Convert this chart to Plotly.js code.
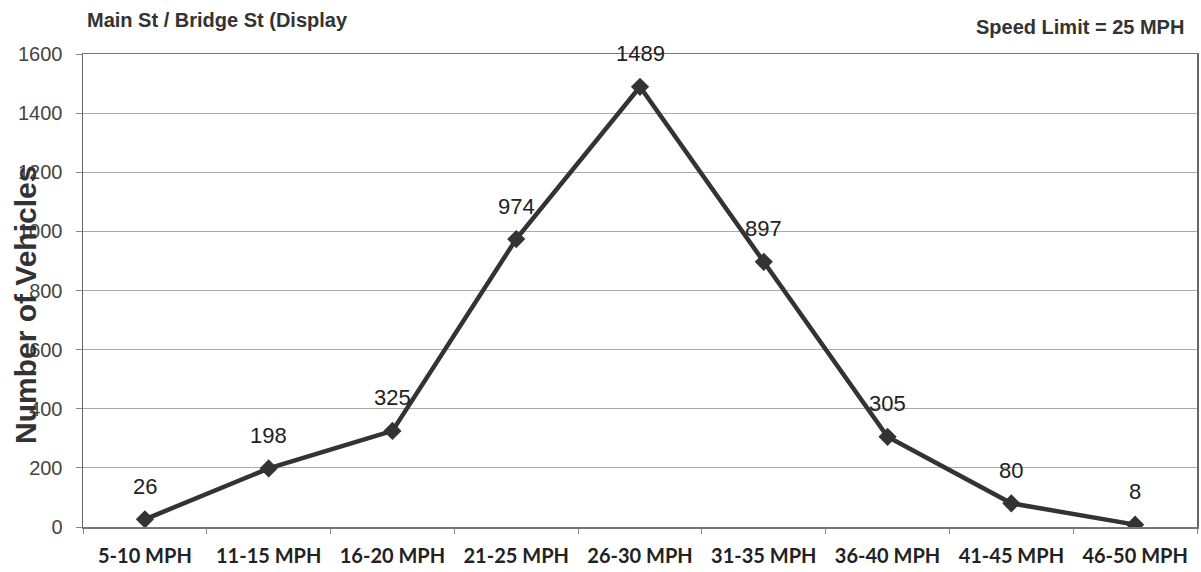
<!DOCTYPE html>
<html>
<head>
<meta charset="utf-8">
<script src="https://cdn.plot.ly/plotly-3.0.1.min.js"></script>
<style>
  html, body { margin: 0; padding: 0; background: #fff; }
  #chart { width: 1201px; height: 572px; }
</style>
</head>
<body>
<div id="chart"></div>
<script>
// Speed bins and vehicle counts
const speedBins = ['5-10 MPH', '11-15 MPH', '16-20 MPH', '21-25 MPH', '26-30 MPH',
                   '31-35 MPH', '36-40 MPH', '41-45 MPH', '46-50 MPH'];
const vehicleCounts = [26, 198, 325, 974, 1489, 897, 305, 80, 8];
const yTicks = [0, 200, 400, 600, 800, 1000, 1200, 1400, 1600];

const trace = {
  x: speedBins,
  y: vehicleCounts,
  type: 'scatter',
  mode: 'lines+markers',
  line: { color: '#333333', width: 4.5 },
  marker: { symbol: 'diamond', size: 14, color: '#333333' },
  hoverinfo: 'x+y'
};

// value labels above each point
const valueLabels = speedBins.map((b, i) => ({
  x: b, y: vehicleCounts[i], xref: 'x', yref: 'y',
  text: String(vehicleCounts[i]),
  showarrow: false, yshift: 33,
  font: { family: 'Liberation Sans, Arial, sans-serif', size: 22, color: '#222' }
}));

const layout = {
  width: 1201, height: 572,
  margin: { l: 83, r: 4, t: 54, b: 45 },
  paper_bgcolor: '#fff', plot_bgcolor: '#fff',
  showlegend: false,
  xaxis: {
    type: 'category',
    range: [-0.5, 8.5],
    showgrid: false,
    showline: true, linecolor: '#777', linewidth: 1.5, mirror: true,
    ticks: 'outside', tickson: 'boundaries', ticklen: 5, tickcolor: '#888',
    ticklabelstandoff: 10,
    tickfont: { family: 'Lato, sans-serif', size: 20, color: '#222', weight: 'bold' },
    automargin: false,
    fixedrange: true
  },
  yaxis: {
    range: [0, 1600],
    tickvals: yTicks,
    showgrid: true, gridcolor: '#aaa', gridwidth: 1,
    showline: true, linecolor: '#666', linewidth: 1.5, mirror: true,
    ticks: 'outside', ticklen: 6, tickcolor: '#888',
    ticklabelstandoff: 9,
    tickfont: { family: 'Liberation Sans, Arial, sans-serif', size: 20, color: '#444' },
    zeroline: false,
    automargin: false,
    fixedrange: true
  },
  annotations: valueLabels.concat([
    {
      text: 'Main St / Bridge St (Display', xref: 'paper', yref: 'paper',
      x: (85 - 83) / 1114, y: 1 + (54 - 20) / 473, xanchor: 'left', yanchor: 'middle',
      showarrow: false,
      font: { family: 'Liberation Sans, Arial, sans-serif', size: 20, color: '#333', weight: 'bold' }
    },
    {
      text: 'Speed Limit = 25 MPH', xref: 'paper', yref: 'paper',
      x: (1186 - 83) / 1114, y: 1 + (54 - 27) / 473, xanchor: 'right', yanchor: 'middle',
      showarrow: false,
      font: { family: 'Liberation Sans, Arial, sans-serif', size: 20, color: '#333', weight: 'bold' }
    },
    {
      text: 'Number of Vehicles', xref: 'paper', yref: 'paper',
      x: (25 - 83) / 1114, y: (527 - 305) / 473, xanchor: 'center', yanchor: 'middle',
      textangle: -90, showarrow: false,
      font: { family: 'Liberation Sans, Arial, sans-serif', size: 30, color: '#333', weight: 'bold' }
    }
  ])
};

Plotly.newPlot('chart', [trace], layout, { displayModeBar: false, staticPlot: true });
</script>
</body>
</html>
